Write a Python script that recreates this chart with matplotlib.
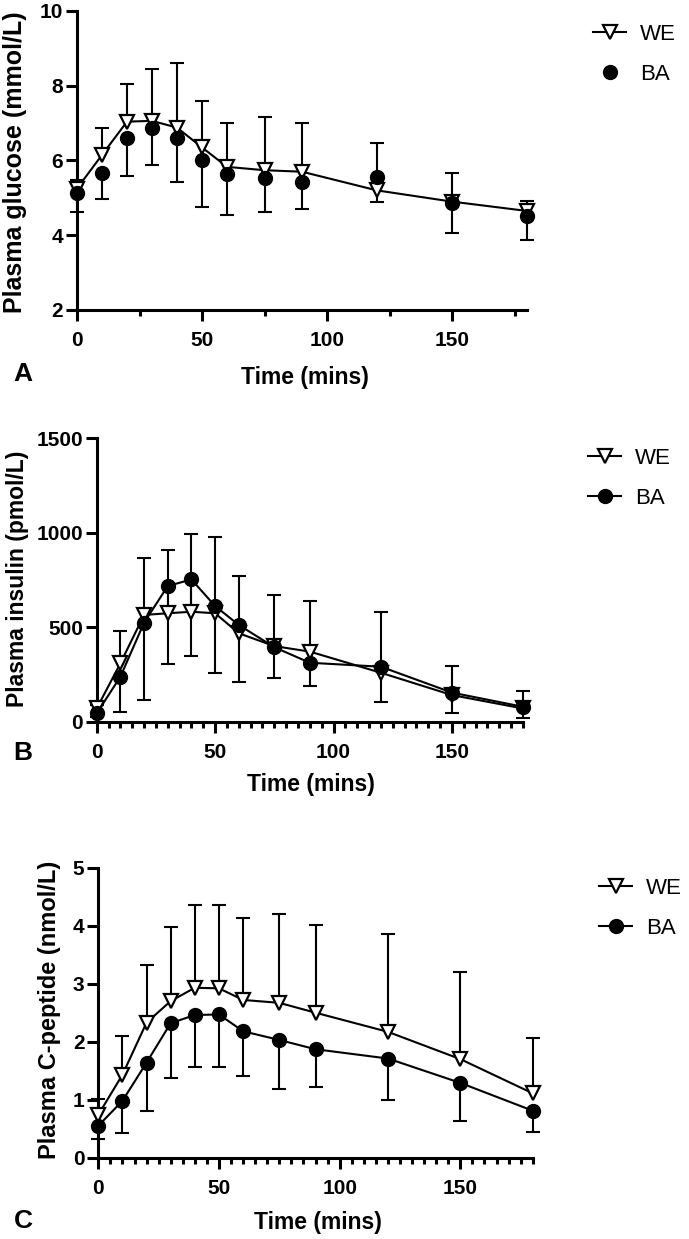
import numpy as np
import matplotlib
matplotlib.use('Agg')
import matplotlib.pyplot as plt
from matplotlib.ticker import FixedLocator, MultipleLocator

plt.rcParams['font.family'] = ['Liberation Sans', 'DejaVu Sans']

# Sampling times (mins)
time_min = [0, 10, 20, 30, 40, 50, 60, 75, 90, 120, 150, 180]

# Panel A - plasma glucose (mmol/L)
glucose_we = [5.25, 6.15, 7.04, 7.06, 6.88, 6.35, 5.83, 5.74, 5.70, 5.20, 4.90, 4.65]
glucose_we_sd = [0.23, 0.72, 1.02, 1.40, 1.72, 1.24, 1.16, 1.43, 1.31, 1.27, 0.77, 0.26]
glucose_ba = [5.12, 5.67, 6.59, 6.86, 6.59, 6.01, 5.65, 5.52, 5.43, 5.56, 4.85, 4.51]
glucose_ba_sd = [0.49, 0.70, 1.00, 0.98, 1.16, 1.25, 1.11, 0.91, 0.74, 0.67, 0.79, 0.64]

# Panel B - plasma insulin (pmol/L)
insulin_we = [70, 309, 565, 574, 582, 574, 468, 400, 371, 259, 141, 70]
insulin_we_sd = [20, 171, 303, 335, 410, 405, 303, 271, 268, 323, 155, 92]
insulin_ba = [44, 238, 524, 718, 753, 612, 512, 394, 312, 291, 154, 79]
insulin_ba_sd = [20, 185, 409, 414, 405, 356, 300, 165, 123, 185, 110, 61]

# Panel C - plasma C-peptide (nmol/L)
cpep_we = [0.74, 1.43, 2.33, 2.70, 2.93, 2.92, 2.72, 2.67, 2.50, 2.17, 1.70, 1.11]
cpep_we_sd = [0.28, 0.67, 0.99, 1.27, 1.43, 1.44, 1.41, 1.53, 1.52, 1.69, 1.51, 0.95]
cpep_ba = [0.55, 0.98, 1.64, 2.32, 2.46, 2.47, 2.18, 2.03, 1.87, 1.71, 1.29, 0.81]
cpep_ba_sd = [0.23, 0.56, 0.84, 0.94, 0.89, 0.90, 0.77, 0.85, 0.65, 0.72, 0.65, 0.36]

W, H = 689, 1239
fig = plt.figure(figsize=(W / 100, H / 100), dpi=100)


def px_rect(left, top, right, bottom):
    return [left / W, 1 - bottom / H, (right - left) / W, (bottom - top) / H]


def draw_panel(rect, we, we_sd, ba, ba_sd, ba_line, ylim, yticks, minor_x, tick_fs):
    ax = fig.add_axes(rect)
    t = np.array(time_min)
    we = np.array(we)
    ba = np.array(ba)
    lw = 1.5
    # error bars: WE upward, BA downward
    ax.vlines(t, we, we + np.array(we_sd), color='black', lw=lw, zorder=2, clip_on=False)
    ax.plot(t, we + np.array(we_sd), ls='none', marker='_', ms=10, mew=lw, color='black', clip_on=False, zorder=2)
    ax.vlines(t, ba - np.array(ba_sd), ba, color='black', lw=lw, zorder=2, clip_on=False)
    ax.plot(t, ba - np.array(ba_sd), ls='none', marker='_', ms=10, mew=lw, color='black', clip_on=False, zorder=2)

    h_we, = ax.plot(t, we, color='black', lw=lw, marker='v', ms=10, mfc='white', mec='black', mew=1.6,
                    clip_on=False, zorder=3, label='WE')
    h_ba, = ax.plot(t, ba, color='black', lw=lw if ba_line else 0, ls='-' if ba_line else 'none',
                    marker='o', ms=10, mfc='black', mec='black', clip_on=False, zorder=4, label='BA')

    ax.set_xlim(0, 180)
    ax.set_ylim(*ylim)
    ax.set_yticks(yticks)
    ax.set_xticks([0, 50, 100, 150])
    ax.xaxis.set_minor_locator(minor_x)
    for s in ['top', 'right']:
        ax.spines[s].set_visible(False)
    for s in ['left', 'bottom']:
        ax.spines[s].set_linewidth(2.2)
    ax.tick_params(axis='both', which='major', width=2.2, length=8, labelsize=tick_fs)
    ax.tick_params(axis='x', which='major', pad=7)
    ax.tick_params(axis='y', which='major', pad=2)
    ax.tick_params(axis='x', which='minor', width=2.2, length=4.5)
    for lab in ax.get_xticklabels() + ax.get_yticklabels():
        lab.set_fontweight('bold')
    return ax, h_we, h_ba


def add_legend(ax, handles, x_px, y_px):
    ax.legend(handles=handles, loc='upper left', bbox_to_anchor=(x_px / W, 1 - y_px / H),
              bbox_transform=fig.transFigure, frameon=False, fontsize=16, handlelength=1.5,
              handletextpad=0.6, labelspacing=0.85, borderpad=0, borderaxespad=0)


# Panel A
axA, we_a, ba_a = draw_panel(px_rect(77, 11, 527, 310), glucose_we, glucose_we_sd, glucose_ba, glucose_ba_sd,
                             False, (2, 10), [2, 4, 6, 8, 10], FixedLocator([25, 75, 125, 175]), 15)
fig.text(15 / W, 1 - 162 / H, 'Plasma glucose (mmol/L)', rotation=90, ha='center', va='center',
         fontsize=18, fontweight='bold')
fig.text(305 / W, 1 - 377 / H, 'Time (mins)', ha='center', va='center', fontsize=16.5, fontweight='bold')
fig.text(23 / W, 1 - 374 / H, 'A', ha='center', va='center', fontsize=19, fontweight='bold')
add_legend(axA, [we_a, ba_a], 593, 24)

# Panel B
axB, we_b, ba_b = draw_panel(px_rect(96.7, 438.3, 523, 721.7), insulin_we, insulin_we_sd, insulin_ba, insulin_ba_sd,
                             True, (0, 1500), [0, 500, 1000, 1500], MultipleLocator(5), 15)
fig.text(18 / W, 1 - 579 / H, 'Plasma insulin (pmol/L)', rotation=90, ha='center', va='center',
         fontsize=16.5, fontweight='bold')
fig.text(311 / W, 1 - 785 / H, 'Time (mins)', ha='center', va='center', fontsize=16.5, fontweight='bold')
fig.text(23 / W, 1 - 753 / H, 'B', ha='center', va='center', fontsize=19, fontweight='bold')
add_legend(axB, [we_b, ba_b], 588, 448)

# Panel C
axC, we_c, ba_c = draw_panel(px_rect(98.3, 867.7, 532.7, 1157.7), cpep_we, cpep_we_sd, cpep_ba, cpep_ba_sd,
                             True, (0, 5), [0, 1, 2, 3, 4, 5], MultipleLocator(5), 15)
fig.text(50 / W, 1 - 1010 / H, 'Plasma C-peptide (nmol/L)', rotation=90, ha='center', va='center',
         fontsize=17, fontweight='bold')
fig.text(318 / W, 1 - 1222 / H, 'Time (mins)', ha='center', va='center', fontsize=16.5, fontweight='bold')
fig.text(23 / W, 1 - 1221 / H, 'C', ha='center', va='center', fontsize=19, fontweight='bold')
add_legend(axC, [we_c, ba_c], 599, 878)

fig.savefig('out.png', dpi=100)
